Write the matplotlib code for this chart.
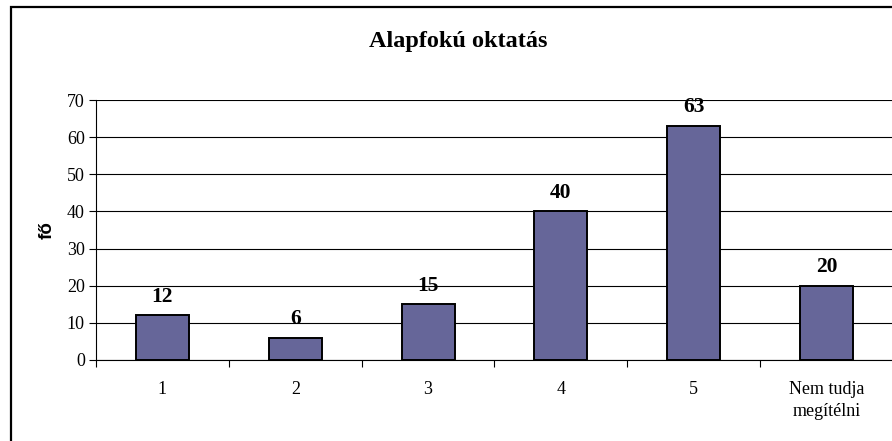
import matplotlib
matplotlib.use('Agg')
import matplotlib.pyplot as plt
from matplotlib.patches import Rectangle
import numpy as np

# data
categories = ['1', '2', '3', '4', '5', 'Nem tudja\nmegítélni']
values = [12, 6, 15, 40, 63, 20]
title = 'Alapfokú oktatás'
ylabel = 'fő'
yticks = [0, 10, 20, 30, 40, 50, 60, 70]

serif = 'Liberation Serif'
sans = 'Liberation Sans'

fig = plt.figure(figsize=(8.92, 4.41), dpi=100)
ax = fig.add_axes([96 / 892, 81 / 441, 797 / 892, 260 / 441])

x = np.arange(len(categories))
bars = ax.bar(x, values, width=0.4, color='#666699', edgecolor='black', linewidth=1.4, zorder=3)

# value labels above bars
for xi, v in zip(x, values):
    ax.text(xi, v + 2.3, str(v), ha='center', va='bottom', fontsize=15.5,
            fontweight='bold', family=serif)

ax.set_xlim(-0.5, len(categories) - 0.5)
ax.set_ylim(0, 70)
ax.set_yticks(yticks)
ax.set_yticklabels([str(t) for t in yticks], family=serif, fontsize=13)
ax.yaxis.grid(True, color='black', linewidth=0.8)
ax.set_axisbelow(True)

# category labels in the middle, tick marks at the boundaries
ax.set_xticks(x)
ax.set_xticklabels(categories, family=serif, fontsize=13, linespacing=1.4)
ax.tick_params(axis='x', length=0, pad=15)
ax.set_xticks(np.arange(-0.5, len(categories), 1.0), minor=True)
ax.tick_params(axis='x', which='minor', length=5, direction='out', width=0.8)
ax.tick_params(axis='y', length=5, direction='out', width=0.8, pad=3)

ax.spines['top'].set_visible(False)
ax.spines['right'].set_visible(False)
ax.spines['left'].set_linewidth(0.8)
ax.spines['bottom'].set_linewidth(0.8)

ax.set_ylabel(ylabel, family=sans, fontweight='bold', fontsize=13.5, labelpad=8)

fig.text(458 / 892, 1 - 41 / 441, title, ha='center', va='center', fontsize=17.5,
         fontweight='bold', family=serif)

# chart frame (cropped at right and bottom in the reference)
fig.patches.append(Rectangle((11 / 892, -0.1), 1.2, 1 - 7 / 441 + 0.1,
                             transform=fig.transFigure, fill=False,
                             edgecolor='black', linewidth=1.6))

fig.savefig('out.png', dpi=100)
